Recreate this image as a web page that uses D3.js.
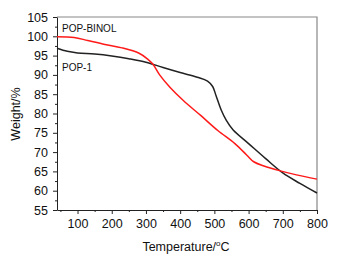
<!DOCTYPE html>
<html>
<head>
<meta charset="utf-8">
<script src="https://cdn.jsdelivr.net/npm/d3@7"></script>
<style>
  body { margin: 0; background: #fff; }
  svg { display: block; font-family: "Liberation Sans", Arial, sans-serif; }
  .axis path, .axis line { stroke: #222; }
  .axis text { font-size: 12.5px; fill: #111; }
</style>
</head>
<body>
<svg id="tga" width="342" height="262"></svg>
<script>
  // POP-1 (black)
  var pop1Temp = [40, 70, 100, 150, 200, 250, 300, 350, 400, 450, 480, 495, 505, 520, 535, 555, 600, 650, 700, 750, 800]
  var pop1Weight = [96.9, 96.1, 95.7, 95.4, 94.9, 94.2, 93.3, 91.9, 90.6, 89.4, 88.4, 87.0, 84.6, 80.9, 78.2, 75.7, 72.2, 68.3, 64.6, 61.9, 59.4]

  // POP-BINOL (red)
  var binolTemp = [40, 90, 130, 180, 230, 280, 305, 320, 340, 370, 410, 460, 510, 560, 595, 615, 645, 690, 740, 800]
  var binolWeight = [99.9, 99.7, 98.9, 97.9, 97.0, 95.6, 94.1, 92.8, 90.0, 86.8, 83.3, 79.5, 75.6, 72.2, 69.2, 67.5, 66.4, 65.2, 64.1, 63.0]

  var xTicks = [100, 200, 300, 400, 500, 600, 700, 800]
  var xMinor = [50, 150, 250, 350, 450, 550, 650, 750]
  var yTicks = [55, 60, 65, 70, 75, 80, 85, 90, 95, 100, 105]
  var yMinor = [57.5, 62.5, 67.5, 72.5, 77.5, 82.5, 87.5, 92.5, 97.5, 102.5]

  var svg = d3.select('#tga')
  var mLeft = 57, mRight = 317, mTop = 17, mBottom = 210

  var x = d3.scaleLinear().domain([40, 800]).range([mLeft, mRight])
  var y = d3.scaleLinear().domain([55, 105]).range([mBottom, mTop])

  // frame (top + right)
  svg.append('path')
    .attr('d', 'M' + mLeft + ',' + mTop + 'H' + mRight + 'V' + mBottom)
    .attr('fill', 'none')
    .attr('stroke', '#888')
    .attr('stroke-width', 1.2)

  // minor ticks
  svg.append('g').attr('class', 'axis')
    .attr('transform', 'translate(0,' + mBottom + ')')
    .call(d3.axisBottom(x).tickValues(xMinor).tickSize(2).tickFormat(''))
    .select('.domain').remove()
  svg.append('g').attr('class', 'axis')
    .attr('transform', 'translate(' + mLeft + ',0)')
    .call(d3.axisLeft(y).tickValues(yMinor).tickSize(2).tickFormat(''))
    .select('.domain').remove()

  // major axes
  svg.append('g').attr('class', 'axis')
    .attr('transform', 'translate(0,' + mBottom + ')')
    .call(d3.axisBottom(x).tickValues(xTicks).tickSize(4).tickSizeOuter(0).tickPadding(5))
  svg.append('g').attr('class', 'axis')
    .attr('transform', 'translate(' + mLeft + ',0)')
    .call(d3.axisLeft(y).tickValues(yTicks).tickSize(4).tickSizeOuter(0).tickPadding(5))

  var line = d3.line().curve(d3.curveCatmullRom.alpha(0.5))

  svg.append('path')
    .attr('d', line(pop1Temp.map((t, i) => [x(t), y(pop1Weight[i])])))
    .attr('fill', 'none')
    .attr('stroke', '#222')
    .attr('stroke-width', 1.5)

  svg.append('path')
    .attr('d', line(binolTemp.map((t, i) => [x(t), y(binolWeight[i])])))
    .attr('fill', 'none')
    .attr('stroke', '#ff1a1a')
    .attr('stroke-width', 1.5)

  // curve labels
  svg.append('text').text('POP-BINOL')
    .attr('x', 62).attr('y', 32).attr('font-size', '10px').attr('fill', '#111')
  svg.append('text').text('POP-1')
    .attr('x', 62).attr('y', 71).attr('font-size', '10px').attr('fill', '#111')

  // axis titles
  var xt = svg.append('text')
    .attr('x', 186).attr('y', 251)
    .attr('text-anchor', 'middle')
    .attr('font-size', '12.5px').attr('fill', '#111')
  xt.append('tspan').text('Temperature/')
  xt.append('tspan').text('o').attr('font-size', '8px').attr('dy', -5)
  xt.append('tspan').text('C').attr('dy', 5)

  svg.append('text').text('Weight/%')
    .attr('transform', 'translate(20,114) rotate(-90)')
    .attr('text-anchor', 'middle')
    .attr('font-size', '12.5px').attr('fill', '#111')
</script>
</body>
</html>
